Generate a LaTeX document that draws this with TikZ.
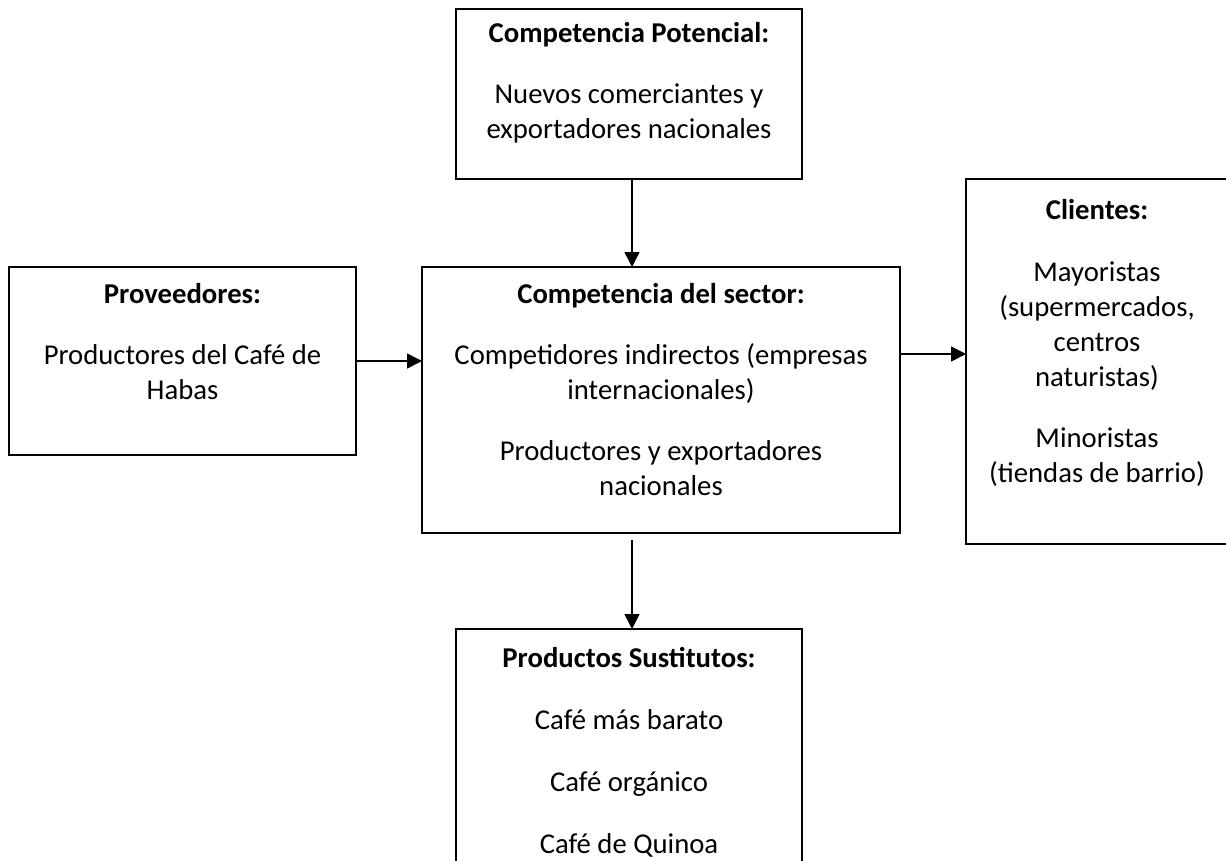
\documentclass[tikz,border=0pt]{standalone}
\usepackage{fontspec}
\setmainfont{Carlito}
\usetikzlibrary{arrows.meta}
\begin{document}
\begin{tikzpicture}[x=1pt,y=-1pt,
  box/.style={draw=black, line width=2pt, inner sep=0pt, outer sep=0pt, rectangle},
  txt/.style={anchor=base, inner sep=0pt, font=\fontsize{28.7}{35}\selectfont},
  ttl/.style={anchor=base, inner sep=0pt, font=\fontsize{28.7}{35}\selectfont\bfseries},
  arr/.style={line width=1.6pt, -{Triangle[length=15pt,width=15pt]}}]
\useasboundingbox (0,0) rectangle (1226,861);
\fill[white] (0,0) rectangle (1226,861);
% boxes
\node[box, minimum width=346pt, minimum height=170pt] (pot) at (629,94) {};
\node[box, minimum width=478pt, minimum height=266pt] (ctr) at (661,400) {};
\node[box, minimum width=347pt, minimum height=188pt] (prov) at (182.5,361) {};
\node[box, minimum width=262pt, minimum height=365pt] (cli) at (1097,361.5) {};
\node[box, minimum width=346pt, minimum height=261pt] (sus) at (629,759.5) {};
% top box text
\node[ttl] (potT) at (629,43) {Competencia Potencial:};
\node[txt] (pot1) at (629,104) {Nuevos comerciantes y};
\node[txt] (pot2) at (629,139) {exportadores nacionales};
% center box text
\node[ttl] (ctrT) at (661,303) {Competencia del sector:};
\node[txt] (ctr1) at (661,364) {Competidores indirectos (empresas};
\node[txt] (ctr2) at (661,399) {internacionales)};
\node[txt] (ctr3) at (661,460) {Productores y exportadores};
\node[txt] (ctr4) at (661,495) {nacionales};
% left box text
\node[ttl] (provT) at (182.5,303) {Proveedores:};
\node[txt] (prov1) at (182.5,364) {Productores del Café de};
\node[txt] (prov2) at (182.5,399) {Habas};
% right box text
\node[ttl] (cliT) at (1097,219) {Clientes:};
\node[txt] (cli1) at (1097,281) {Mayoristas};
\node[txt] (cli2) at (1097,316) {(supermercados,};
\node[txt] (cli3) at (1097,351) {centros};
\node[txt] (cli4) at (1097,386) {naturistas)};
\node[txt] (cli5) at (1097,447) {Minoristas};
\node[txt] (cli6) at (1097,482) {(tiendas de barrio)};
% bottom box text
\node[ttl] (susT) at (629,667) {Productos Sustitutos:};
\node[txt] (sus1) at (629,729) {Café más barato};
\node[txt] (sus2) at (629,791) {Café orgánico};
\node[txt] (sus3) at (629,853) {Café de Quinoa};
% connectors
\draw[arr] ([xshift=3pt]pot.south) -- ([xshift=3pt]pot.south |- ctr.north);
\draw[arr] (prov.east) -- (prov.east -| ctr.west);
\coordinate (c1) at (900,354);
\draw[arr] (c1) -- (c1 -| cli.west);
\draw[arr, shorten <=7pt] ([xshift=3pt]sus.north |- ctr.south) -- ([xshift=3pt]sus.north);
\end{tikzpicture}
\end{document}
